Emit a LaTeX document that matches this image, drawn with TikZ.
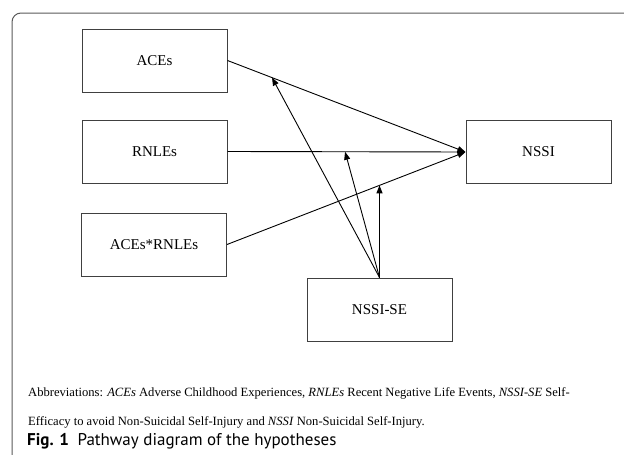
\documentclass[tikz,border=0pt]{standalone}
\usepackage{fontspec}
\setmainfont{Liberation Serif}
\newfontfamily\capfont{PT Sans}
\usetikzlibrary{arrows.meta}
\begin{document}
\begin{tikzpicture}[x=1pt, y=-1pt, >={Triangle[length=8pt, width=6pt]},
	every node/.style = {shape=rectangle, align=center, inner sep=0pt},
	varbox/.style = {draw=black!75, line width=1pt, minimum width=145pt, minimum height=63pt, font=\fontsize{15}{18}\selectfont},
	path/.style = {->, line width=0.9pt}]
	\useasboundingbox (0,0) rectangle (624,455);
	\clip (0,0) rectangle (624,455);
	\draw[black!65, line width=1pt, rounded corners=9pt] (12,470) -- (12,13) -- (640,13);
	% variables
	\node[varbox] (aces) at (154.5,60.5) {ACEs};
	\node[varbox] (rnles) at (154.5,151.5) {RNLEs};
	\node[varbox] (inter) at (154,244.5) {ACEs*RNLEs};
	\node[varbox] (nssi) at (538.5,152) {NSSI};
	\node[varbox] (se) at (379.5,309.5) {NSSI-SE};
	% direct paths
	\draw[path] (aces.east) -- (nssi.west) coordinate[pos=0.187] (m1);
	\draw[path] (rnles.east) -- (nssi.west) coordinate[pos=0.494] (m2);
	\draw[path] (inter.east) -- (nssi.west) coordinate[pos=0.64] (m3);
	% moderation
	\draw[path] (se.north) -- (m1);
	\draw[path] (se.north) -- (m2);
	\draw[path] (se.north) -- (se.north |- m3);
	% caption
	\node[anchor=west, font=\fontsize{12.6}{14}\selectfont] (abbr1) at (28,393) {Abbreviations: \textit{ACEs} Adverse Childhood Experiences, \textit{RNLEs} Recent Negative Life Events, \textit{NSSI-SE} Self-};
	\node[anchor=west, font=\fontsize{12.6}{14}\selectfont] (abbr2) at (28,422) {Efficacy to avoid Non-Suicidal Self-Injury and \textit{NSSI} Non-Suicidal Self-Injury.};
	\node[anchor=west, font=\capfont\fontsize{17}{19}\selectfont] (fig) at (27,441) {\textbf{Fig. 1}\enspace Pathway diagram of the hypotheses};
\end{tikzpicture}
\end{document}
